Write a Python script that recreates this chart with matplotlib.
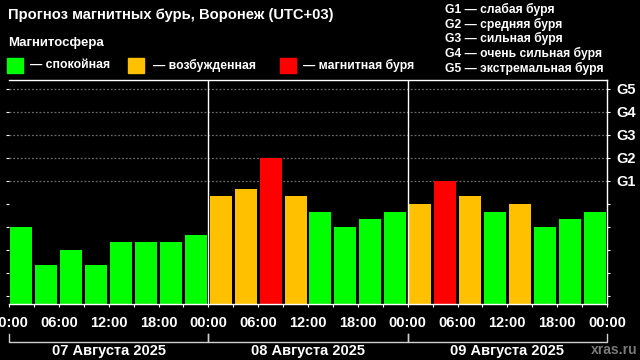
import matplotlib.pyplot as plt
from matplotlib.patches import Rectangle
from matplotlib.transforms import blended_transform_factory

# Kp forecast, 3-hour steps
kp = [
    3.0, 1.33, 2.0, 1.33, 2.33, 2.33, 2.33, 2.67,
    4.33, 4.67, 6.0, 4.33, 3.67, 3.0, 3.33, 3.67,
    4.0, 5.0, 4.33, 3.67, 4.0, 3.0, 3.33, 3.67,
]
days = ["07 Августа 2025", "08 Августа 2025", "09 Августа 2025"]
hour_labels = ["00:00", "06:00", "12:00", "18:00"] * 3 + ["00:00"]
g_labels = ["G1", "G2", "G3", "G4", "G5"]
legend_items = ["— спокойная", "— возбужденная", "— магнитная буря"]
g_legend = [
    "G1 — слабая буря",
    "G2 — средняя буря",
    "G3 — сильная буря",
    "G4 — очень сильная буря",
    "G5 — экстремальная буря",
]

GREEN = "#00ff00"
ORANGE = "#ffc000"
RED = "#ff0000"
level_colors = [GREEN, ORANGE, RED]

plt.rcParams["font.family"] = ["Liberation Sans", "DejaVu Sans"]
plt.rcParams["font.weight"] = "bold"

W, H = 640, 360
fig = plt.figure(figsize=(6.4, 3.6), dpi=100, facecolor="black")


def fx(px):
    return px / W


def fy(py):
    return 1 - py / H


ax = fig.add_axes([fx(9), fy(304), fx(607 - 9), (304 - 80) / H])
ax.set_facecolor("black")

ymin, ymax = -0.35, 9.39
ax.set_xlim(0, 72)
ax.set_ylim(ymin, ymax)

# G-level grid
for lvl in range(5, 10):
    ax.axhline(lvl, color="#6a6a6a", lw=0.9, ls=(0, (1.5, 1.5)), zorder=1)

colors = [RED if v >= 5 else ORANGE if v >= 4 else GREEN for v in kp]
xs = [i * 3 + 1.5 for i in range(len(kp))]
ax.bar(
    xs,
    [v - ymin for v in kp],
    bottom=ymin,
    width=2.65,
    color=colors,
    zorder=2,
)

# day separators
for d in (24, 48):
    ax.axvline(d, color="white", lw=1, zorder=3)

for side in ("top", "right", "bottom"):
    ax.spines[side].set_color("white")
    ax.spines[side].set_linewidth(1)
ax.spines["left"].set_visible(False)

ax.set_yticks(range(10))
ax.set_yticklabels([""] * 5 + g_labels)
ax.tick_params(
    axis="y", left=True, right=True, labelleft=False, labelright=True,
    colors="white", length=2.5, width=0.8, labelsize=10.5, pad=4,
)

ax.set_xticks(range(0, 73, 3), minor=True)
ax.set_xticks(range(0, 73, 6))
ax.set_xticklabels(hour_labels)
ax.tick_params(axis="x", which="both", colors="white", length=2.5, width=0.8)
ax.tick_params(axis="x", which="major", labelsize=10.5, pad=6)
for lab in ax.get_xticklabels() + ax.get_yticklabels():
    lab.set_fontweight("bold")

# day brackets and labels
trans = blended_transform_factory(ax.transData, ax.transAxes)
y_top = -(334 - 304) / 224
y_bot = -(342 - 304) / 224
for i, day in enumerate(days):
    x0, x1 = i * 24, (i + 1) * 24
    ax.plot([x0, x0, x1, x1], [y_top, y_bot, y_bot, y_top],
            color="#d0d0d0", lw=1, transform=trans, clip_on=False)
    ax.text((x0 + x1) / 2, -(350.5 - 304) / 224, day, transform=trans,
            ha="center", va="center", color="white", fontsize=10.5,
            fontweight="bold")

fig.text(fx(638), fy(350.5), "xras.ru", ha="right", va="center",
         color="#7a7a7a", fontsize=10, fontweight="bold")

# title and legends
fig.text(fx(8), fy(15), "Прогноз магнитных бурь, Воронеж (UTC+03)",
         ha="left", va="center", color="white", fontsize=10.6, fontweight="bold")
fig.text(fx(8), fy(43), "Магнитосфера", ha="left", va="center",
         color="white", fontsize=9.5, fontweight="bold")

box_x = [7, 128, 280]
text_x = [30, 153, 303]
for bx, tx, c, label in zip(box_x, text_x, level_colors, legend_items):
    fig.patches.append(Rectangle((fx(bx), fy(73)), fx(16), 15 / H,
                                 transform=fig.transFigure, color=c))
    fig.text(fx(tx), fy(65.5), label, ha="left", va="center",
             color="white", fontsize=8.8, fontweight="bold")

for i, label in enumerate(g_legend):
    fig.text(fx(445), fy(9.3 + i * 14.75), label, ha="left", va="center",
             color="white", fontsize=8.7, fontweight="bold")

fig.savefig("out.png", dpi=100, facecolor="black")
